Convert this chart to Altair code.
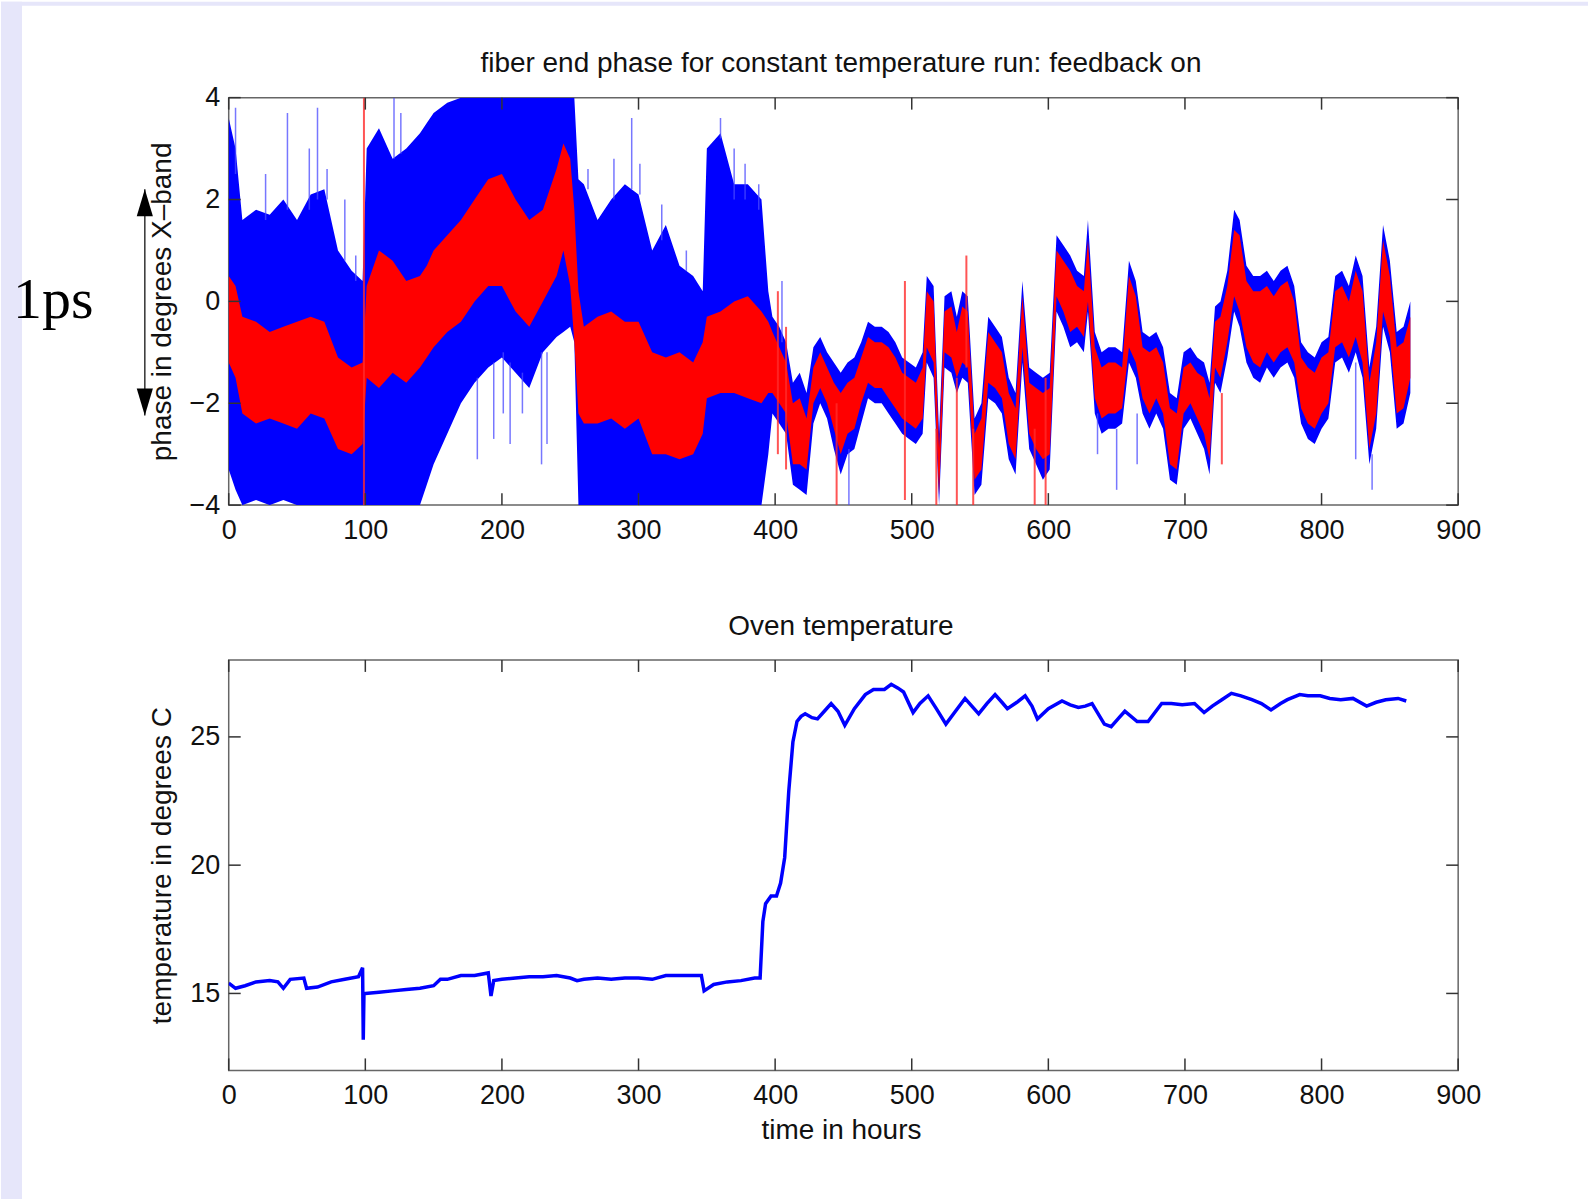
import altair as alt
import pandas as pd

FONT = "Liberation Sans"
INK = "#111111"

# ---------------- top panel: phase (envelopes) ----------------
early_hours = [0, 5, 10, 20, 30, 40, 50, 60, 70, 80, 90, 98, 101, 110, 120, 130, 140, 145, 150, 160,
               170, 180, 190, 200, 210, 220, 230, 240, 245, 250, 253, 256, 260, 270, 280, 290, 300, 310,
               320, 330, 340, 347, 350, 360, 370, 380, 390, 395]
early_blue_hi = [3.6, 3.0, 1.6, 1.8, 1.7, 2.0, 1.6, 2.1, 2.2, 1.0, 0.6, 0.4, 3.0, 3.4, 2.8, 3.0, 3.3, 3.5, 3.7, 3.9,
                 4, 4, 4, 4, 4, 4, 4, 4, 4, 4, 4, 2.4, 2.3, 1.6, 2.0, 2.3, 2.1, 1.0,
                 1.5, 0.7, 0.5, 0.2, 3.0, 3.3, 2.3, 2.3, 2.0, 0.2]
early_blue_lo = [-3.3, -3.7, -4, -3.9, -4, -3.9, -4, -4, -4, -4, -4, -4, -4, -4, -4, -4, -4, -3.6, -3.2, -2.6,
                 -2.0, -1.6, -1.3, -1.1, -1.4, -1.7, -1.0, -0.7, -0.6, -0.5, -0.8, -4, -4, -4, -4, -4, -4, -4,
                 -4, -4, -4, -4, -4, -4, -4, -4, -4, -3.0]
early_red_hi = [0.5, 0.3, -0.3, -0.4, -0.6, -0.5, -0.4, -0.3, -0.4, -1.1, -1.3, -1.2, 0.3, 1.0, 0.8, 0.4, 0.5, 0.7, 1.0, 1.3,
                1.6, 2.0, 2.4, 2.5, 2.0, 1.6, 1.8, 2.6, 3.1, 2.8, 1.8, 0.2, -0.5, -0.3, -0.2, -0.4, -0.4, -1.0,
                -1.1, -1.0, -1.2, -0.8, -0.3, -0.2, 0.0, 0.1, -0.2, -0.4]
early_red_lo = [-1.2, -1.5, -2.2, -2.4, -2.3, -2.4, -2.5, -2.2, -2.3, -2.9, -3.0, -2.8, -1.5, -1.7, -1.4, -1.6, -1.3, -1.1, -0.9, -0.6,
                -0.4, 0.0, 0.3, 0.3, -0.2, -0.5, 0.0, 0.5, 1.0, 0.3, -0.8, -2.2, -2.4, -2.4, -2.3, -2.5, -2.3, -3.0,
                -3.0, -3.1, -3.0, -2.6, -1.9, -1.8, -1.8, -1.9, -2.0, -1.8]

late_hours = [398, 403, 408, 413, 418, 423, 428, 433, 438, 443, 448, 453, 458, 463, 468, 473, 478, 483, 488, 493,
              498, 503, 508, 511, 516, 520, 524, 529, 533, 537, 541, 546, 551, 556, 561, 566, 571, 576, 581, 586,
              591, 596, 601, 606, 611, 616, 621, 626, 629, 634, 639, 644, 649, 654, 659, 664, 669, 674, 679, 684,
              689, 694, 699, 704, 709, 714, 718, 722, 726, 731, 736, 740, 745, 750, 755, 760, 765, 770, 775, 780,
              785, 790, 795, 800, 805, 810, 815, 820, 825, 830, 835, 840, 845, 850, 855, 860, 865]
late_blue_hi = [-0.3, -0.5, -0.8, -1.6, -1.4, -1.8, -0.9, -0.7, -1.0, -1.2, -1.4, -1.2, -1.1, -0.8, -0.4, -0.5, -0.5, -0.6, -0.8, -1.1,
                -1.2, -1.3, -1.0, 0.5, 0.3, -2.6, 0.1, 0.2, -0.3, 0.2, 0.1, -2.3, -2.0, -0.3, -0.5, -0.7, -1.5, -1.8, 0.4, -1.3,
                -1.4, -1.5, -1.4, 1.3, 1.1, 0.9, 0.6, 0.5, 1.6, -0.6, -1.0, -0.9, -0.9, -1.0, 0.8, 0.4, -0.6, -0.7, -0.6, -0.9,
                -1.8, -1.9, -1.0, -0.9, -1.1, -1.2, -1.6, -0.1, 0.0, 0.6, 1.8, 1.6, 0.7, 0.5, 0.5, 0.6, 0.4, 0.6, 0.7, 0.3,
                -0.8, -1.0, -1.1, -0.8, -0.7, 0.5, 0.6, 0.3, 0.9, 0.5, -1.3, -0.5, 1.5, 0.8, -0.6, -0.5, 0.0]
late_blue_lo = [-2.2, -2.4, -2.6, -3.6, -3.7, -3.8, -2.4, -2.0, -2.3, -2.9, -3.4, -3.0, -2.9, -2.4, -1.9, -2.0, -2.0, -2.2, -2.4, -2.6,
                -2.7, -2.8, -2.6, -1.2, -1.5, -4.0, -1.3, -1.4, -1.8, -1.5, -1.6, -3.8, -3.6, -1.9, -2.0, -2.2, -3.1, -3.4, -1.2, -2.9,
                -3.2, -3.5, -3.3, -0.2, -0.5, -0.9, -0.8, -1.0, -0.2, -2.2, -2.6, -2.5, -2.5, -2.4, -1.2, -1.5, -2.2, -2.5, -2.2, -2.5,
                -3.5, -3.6, -2.5, -2.3, -2.6, -2.9, -3.4, -1.6, -1.8, -1.1, -0.2, -0.5, -1.2, -1.5, -1.6, -1.3, -1.5, -1.3, -1.2, -1.5,
                -2.4, -2.7, -2.8, -2.5, -2.3, -1.2, -1.1, -1.4, -1.0, -1.5, -3.2, -2.5, -0.5, -1.0, -2.5, -2.4, -1.8]
late_red_hi = [-0.6, -0.9, -1.2, -2.0, -1.9, -2.3, -1.3, -1.0, -1.3, -1.6, -1.8, -1.6, -1.5, -1.1, -0.7, -0.8, -0.8, -0.9, -1.1, -1.4,
               -1.5, -1.6, -1.3, 0.2, 0.0, -2.9, -0.2, -0.1, -0.6, -0.1, -0.2, -2.6, -2.3, -0.6, -0.8, -1.0, -1.8, -2.1, 0.1, -1.6,
               -1.7, -1.8, -1.7, 1.0, 0.8, 0.6, 0.3, 0.2, 1.2, -0.9, -1.3, -1.2, -1.2, -1.3, 0.5, 0.1, -0.9, -1.0, -0.9, -1.2,
               -2.1, -2.2, -1.3, -1.2, -1.4, -1.5, -1.9, -0.4, -0.3, 0.3, 1.4, 1.3, 0.4, 0.2, 0.2, 0.3, 0.1, 0.3, 0.4, 0.0,
               -1.1, -1.3, -1.4, -1.1, -1.0, 0.2, 0.3, 0.0, 0.6, 0.2, -1.6, -0.8, 1.2, 0.5, -0.9, -0.8, -0.3]
late_red_lo = [-1.8, -2.0, -2.2, -3.2, -3.2, -3.3, -2.0, -1.7, -2.0, -2.5, -3.0, -2.6, -2.5, -2.0, -1.6, -1.7, -1.7, -1.9, -2.1, -2.3,
               -2.4, -2.5, -2.3, -0.9, -1.2, -3.8, -1.0, -1.1, -1.5, -1.2, -1.3, -3.5, -3.3, -1.6, -1.7, -1.9, -2.8, -3.1, -0.9, -2.6,
               -2.9, -3.1, -3.0, 0.1, -0.2, -0.6, -0.5, -0.7, 0.0, -1.9, -2.3, -2.2, -2.2, -2.1, -0.9, -1.2, -1.9, -2.2, -1.9, -2.2,
               -3.2, -3.3, -2.2, -2.0, -2.3, -2.6, -3.1, -1.3, -1.5, -0.8, 0.1, -0.2, -0.9, -1.2, -1.3, -1.0, -1.2, -1.0, -0.9, -1.2,
               -2.1, -2.4, -2.5, -2.2, -2.0, -0.9, -0.8, -1.1, -0.7, -1.2, -2.9, -2.2, -0.2, -0.7, -2.2, -2.1, -1.5]

blue_spike_hours = [5, 27, 43, 59, 65, 72, 85, 93, 121, 126, 182, 194, 201, 206, 215, 229, 233, 263, 282, 295,
                    301, 317, 335, 360, 370, 378, 388, 405, 454, 636, 650, 665, 825, 837]
blue_spike_lo = [2.5, 1.6, 1.8, 1.8, 2.0, 2.0, 0.8, 0.4, 2.8, 2.9, -3.1, -2.7, -2.2, -2.8, -2.2, -3.2, -2.8, 2.2, 2.0, 2.2,
                 2.1, 1.2, 0.6, 3.2, 2.0, 2.0, 1.8, -0.8, -4.0, -3.0, -3.7, -3.2, -3.1, -3.7]
blue_spike_hi = [3.8, 2.5, 3.7, 3.0, 3.8, 2.6, 2.0, 0.9, 4.0, 3.7, -1.5, -1.2, -1.0, -1.2, -1.4, -1.0, -1.0, 2.6, 2.8, 3.6,
                 2.7, 1.9, 1.0, 3.6, 3.0, 2.7, 2.3, 0.4, -2.9, -2.2, -2.5, -2.2, -1.2, -3.0]

red_spike_hours = [99, 402, 408, 445, 495, 518, 533, 540, 545, 590, 598, 727]
red_spike_lo = [-4.0, -3.0, -3.3, -4.0, -3.9, -4.0, -4.0, -1.3, -4.0, -4.0, -4.0, -3.2]
red_spike_hi = [4.0, 0.2, -0.5, -2.0, 0.4, -2.5, -1.5, 0.9, -2.5, -2.5, -1.5, -1.8]

# ---------------- bottom panel: oven temperature ----------------
temp_hours = [0, 5, 12, 20, 30, 36, 40, 45, 55, 57, 65, 75, 85, 95, 98, 98.5, 99, 100, 110, 120,
              130, 140, 150, 155, 160, 170, 180, 190, 192, 194, 200, 210, 220, 230, 240, 250, 255, 260, 270, 280,
              290, 300, 310, 320, 330, 340, 346, 348, 355, 365, 375, 385, 389, 391, 393, 397, 401, 404, 407, 410,
              413, 416, 419, 422, 427, 431, 436, 441, 446, 451, 458, 466, 472, 480, 485, 490, 494, 501, 506, 512,
              518, 525, 532, 539, 544, 549, 555, 561, 566, 570, 577, 583, 588, 592, 600, 610, 616, 622, 627, 632,
              641, 646, 651, 656, 665, 673, 683, 690, 698, 707, 714, 720, 727, 734, 741, 749, 756, 763, 770, 775,
              784, 790, 799, 806, 814, 823, 833, 840, 847, 856, 862]
temp_vals = [15.4, 15.2, 15.3, 15.45, 15.5, 15.45, 15.2, 15.55, 15.6, 15.2, 15.25, 15.45, 15.55, 15.65, 16.0, 13.2, 15.0, 15.0, 15.05, 15.1,
             15.15, 15.2, 15.3, 15.55, 15.55, 15.7, 15.7, 15.8, 14.9, 15.5, 15.55, 15.6, 15.65, 15.65, 15.7, 15.6, 15.5, 15.55, 15.6, 15.55,
             15.6, 15.6, 15.55, 15.7, 15.7, 15.7, 15.7, 15.1, 15.35, 15.45, 15.5, 15.6, 15.6, 17.8, 18.5, 18.8, 18.8, 19.3, 20.3, 22.9,
             24.8, 25.6, 25.8, 25.9, 25.75, 25.7, 26.0, 26.3, 26.0, 25.45, 26.1, 26.65, 26.85, 26.85, 27.05, 26.9, 26.75, 25.95, 26.3, 26.6,
             26.1, 25.5, 26.0, 26.5, 26.2, 25.9, 26.3, 26.65, 26.35, 26.1, 26.35, 26.6, 26.2, 25.7, 26.1, 26.4, 26.25, 26.15, 26.2, 26.3,
             25.5, 25.4, 25.7, 26.0, 25.6, 25.6, 26.3, 26.3, 26.25, 26.3, 25.95, 26.2, 26.45, 26.7, 26.6, 26.45, 26.3, 26.05, 26.3, 26.45,
             26.65, 26.6, 26.6, 26.5, 26.45, 26.5, 26.2, 26.35, 26.45, 26.5, 26.4]

x_ticks = [0, 100, 200, 300, 400, 500, 600, 700, 800, 900]
phase_ticks = [-4, -2, 0, 2, 4]
temp_ticks = [15, 20, 25]
arrow_top = 2.2
arrow_bottom = -2.24

top_title = "fiber end phase for constant temperature run: feedback on"
bottom_title = "Oven temperature"
scale_label = "1ps"

# ---------------- build ----------------
W, H1, H2 = 1231, 408, 411
TICK = 12
TICK_COLOR = "#333333"

phase_df = pd.DataFrame({
    "hour": early_hours + late_hours,
    "blue_hi": early_blue_hi + late_blue_hi,
    "blue_lo": early_blue_lo + late_blue_lo,
    "red_hi": early_red_hi + late_red_hi,
    "red_lo": early_red_lo + late_red_lo,
})
bspike_df = pd.DataFrame({"hour": blue_spike_hours, "lo": blue_spike_lo, "hi": blue_spike_hi})
rspike_df = pd.DataFrame({"hour": red_spike_hours, "lo": red_spike_lo, "hi": red_spike_hi})
temp_df = pd.DataFrame({"hour": temp_hours, "temp": temp_vals})
xt_df = pd.DataFrame({"hour": x_ticks})
pt_df = pd.DataFrame({"phase": phase_ticks})
tt_df = pd.DataFrame({"temp": temp_ticks})
one_df = pd.DataFrame({"k": [0]})

xs = alt.Scale(domain=[0, 900], nice=False, zero=False)
ys1 = alt.Scale(domain=[-4, 4], nice=False, zero=False)
ys2 = alt.Scale(domain=[12, 28], nice=False, zero=False)

lab = dict(labelFont=FONT, labelFontSize=27, labelColor=INK, ticks=False, domain=False, grid=False,
           labelOverlap=False)
ttl = dict(titleFont=FONT, titleFontSize=28, titleFontWeight="normal", titleColor=INK,
           titleAlign="center", titleBaseline="middle")

XA_TOP = alt.Axis(values=x_ticks, labelPadding=12, labelFlush=False, format="d", title="", **lab)
XA_BOT = alt.Axis(values=x_ticks, labelPadding=12, labelFlush=False, format="d",
                  title="time in hours", titleX=613, titleY=60, **lab, **ttl)
YA_TOP = alt.Axis(values=phase_ticks, labelPadding=9, format="d", title="phase in degrees X–band",
                  titleAngle=270, titleX=-66, titleY=H1 / 2, **lab, **ttl)
YA_BOT = alt.Axis(values=temp_ticks, labelPadding=9, format="d", title="temperature in degrees C",
                  titleAngle=270, titleX=-66, titleY=H2 / 2, **lab, **ttl)


def tick_layers(yfield, yscale, yaxis, xaxis, H):
    xdf = xt_df
    ydf = pt_df if yfield == "phase" else tt_df
    top_t = alt.Chart(xdf).mark_rule(color=TICK_COLOR, strokeWidth=1.5).encode(
        x=alt.X("hour:Q", scale=xs, axis=xaxis), y=alt.value(0), y2=alt.value(TICK))
    bot_t = alt.Chart(xdf).mark_rule(color=TICK_COLOR, strokeWidth=1.5).encode(
        x=alt.X("hour:Q", scale=xs, axis=xaxis), y=alt.value(H), y2=alt.value(H - TICK))
    left_t = alt.Chart(ydf).mark_rule(color=TICK_COLOR, strokeWidth=1.5).encode(
        y=alt.Y(f"{yfield}:Q", scale=yscale, axis=yaxis), x=alt.value(0), x2=alt.value(TICK))
    right_t = alt.Chart(ydf).mark_rule(color=TICK_COLOR, strokeWidth=1.5).encode(
        y=alt.Y(f"{yfield}:Q", scale=yscale, axis=yaxis), x=alt.value(W), x2=alt.value(W - TICK))
    return [top_t, bot_t, left_t, right_t]


# page decoration (lavender frame strips)
bg_left = alt.Chart(one_df).mark_rect(color="#e6e6fa").encode(
    x=alt.value(-228), x2=alt.value(-207), y=alt.value(-96), y2=alt.value(1103))
bg_top = alt.Chart(one_df).mark_rect(color="#e6e6fa").encode(
    x=alt.value(-228), x2=alt.value(1361), y=alt.value(-96), y2=alt.value(-92))

blue_area = alt.Chart(phase_df).mark_area(color="#0000ff", clip=True, interpolate="linear").encode(
    x=alt.X("hour:Q", scale=xs, axis=XA_TOP),
    y=alt.Y("blue_lo:Q", scale=ys1, axis=YA_TOP),
    y2="blue_hi:Q")
blue_sp = alt.Chart(bspike_df).mark_rule(color="#4a4aff", strokeWidth=1.5, opacity=0.75, clip=True).encode(
    x=alt.X("hour:Q", scale=xs, axis=XA_TOP), y=alt.Y("lo:Q", scale=ys1, axis=YA_TOP), y2="hi:Q")
red_area = alt.Chart(phase_df).mark_area(color="#ff0000", clip=True, interpolate="linear").encode(
    x=alt.X("hour:Q", scale=xs, axis=XA_TOP),
    y=alt.Y("red_lo:Q", scale=ys1, axis=YA_TOP),
    y2="red_hi:Q")
red_sp = alt.Chart(rspike_df).mark_rule(color="#ff2a2a", strokeWidth=2, opacity=0.8, clip=True).encode(
    x=alt.X("hour:Q", scale=xs, axis=XA_TOP), y=alt.Y("lo:Q", scale=ys1, axis=YA_TOP), y2="hi:Q")

arrow_df = pd.DataFrame({"top": [arrow_top], "bottom": [arrow_bottom]})
shaft = alt.Chart(arrow_df).mark_rule(color="#333333", strokeWidth=1.5).encode(
    x=alt.value(-84), y=alt.Y("top:Q", scale=ys1, axis=YA_TOP), y2="bottom:Q")
head_up = alt.Chart(arrow_df).mark_point(shape="M0,-1L0.6,1L-0.6,1Z", size=729, filled=True,
                                         color="black", opacity=1, yOffset=13.5).encode(
    x=alt.value(-84), y=alt.Y("top:Q", scale=ys1, axis=YA_TOP))
head_dn = alt.Chart(arrow_df).mark_point(shape="M0,1L0.6,-1L-0.6,-1Z", size=729, filled=True,
                                         color="black", opacity=1, yOffset=-13.5).encode(
    x=alt.value(-84), y=alt.Y("bottom:Q", scale=ys1, axis=YA_TOP))
ps_text = alt.Chart(pd.DataFrame({"label": [scale_label], "phase": [0]})).mark_text(
    font="Liberation Serif", fontSize=58, align="left", baseline="middle", color="black").encode(
    x=alt.value(-216), y=alt.Y("phase:Q", scale=ys1, axis=YA_TOP), text="label:N")
t1 = alt.Chart(pd.DataFrame({"label": [top_title]})).mark_text(
    font=FONT, fontSize=28, align="center", baseline="middle", color=INK).encode(
    x=alt.value(613), y=alt.value(-34), text="label:N")

top = alt.layer(blue_area, bg_left, bg_top, blue_sp, red_area, red_sp,
                *tick_layers("phase", ys1, YA_TOP, XA_TOP, H1), shaft, head_up, head_dn, ps_text, t1
                ).properties(width=W, height=H1)

temp_line = alt.Chart(temp_df).mark_line(color="#0000ff", strokeWidth=3.5, clip=True).encode(
    x=alt.X("hour:Q", scale=xs, axis=XA_BOT),
    y=alt.Y("temp:Q", scale=ys2, axis=YA_BOT))
t2 = alt.Chart(pd.DataFrame({"label": [bottom_title]})).mark_text(
    font=FONT, fontSize=28, align="center", baseline="middle", color=INK).encode(
    x=alt.value(613), y=alt.value(-33), text="label:N")

bottom = alt.layer(temp_line, *tick_layers("temp", ys2, YA_BOT, XA_BOT, H2), t2).properties(width=W, height=H2)

chart = alt.vconcat(top, bottom, spacing=155, bounds="flush").properties(
    padding=0, background="white"
).configure_view(stroke="#666666", strokeWidth=1.5)

chart.save("out.html", embed_options={"renderer": "svg", "actions": False})
